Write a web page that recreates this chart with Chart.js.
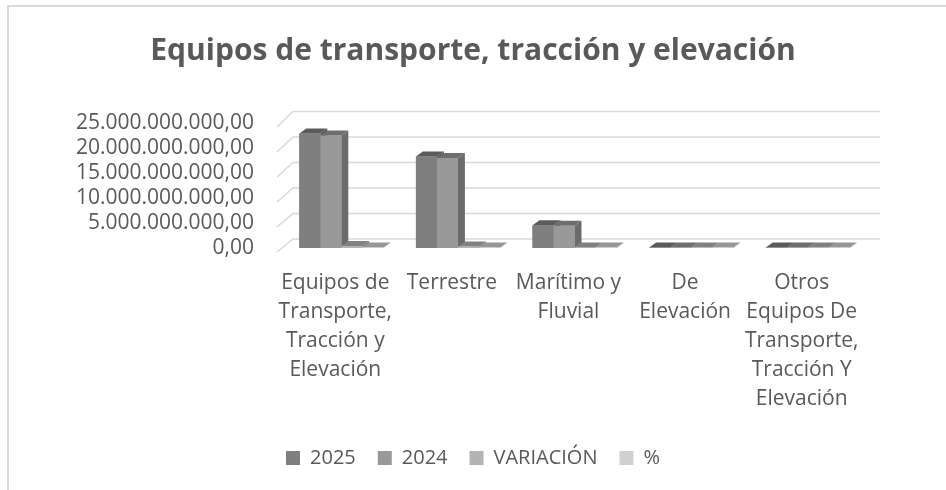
<!DOCTYPE html>
<html>
<head>
<meta charset="utf-8">
<script src="https://cdn.jsdelivr.net/npm/chart.js@4"></script>
<style>
  html, body { margin: 0; padding: 0; background: #fff; overflow: hidden; }
  #wrap { position: relative; width: 946px; height: 490px; }
  #frame { position: absolute; left: 7px; top: 5px; width: 960px; height: 500px;
           border-top: 2px solid #d9d9d9; border-left: 2px solid #d9d9d9; pointer-events: none; }
</style>
</head>
<body>
<div id="wrap">
  <canvas id="myChart" width="946" height="490"></canvas>
  <div id="frame"></div>
</div>
<script>
// categories (multi-line, as wrapped in the picture)
const categories = [
  ['Equipos de', 'Transporte,', 'Tracción y', 'Elevación'],
  ['Terrestre'],
  ['Marítimo y', 'Fluvial'],
  ['De', 'Elevación'],
  ['Otros', 'Equipos De', 'Transporte,', 'Tracción Y', 'Elevación']
]

// series values
const values2025 = [22900000000, 18300000000, 4550000000, 30000000, 20000000]
const values2024 = [22500000000, 18000000000, 4450000000, 30000000, 20000000]
const variacion = [400000000, 300000000, 100000000, 0, 0]
const porcentaje = [1.78, 1.67, 2.25, 0, 0]

const seriesNames = ['2025', '2024', 'VARIACIÓN', '%']
const seriesColors = ['#7f7f7f', '#999999', '#b3b3b3', '#d0d0d0']

const yTicks = [0, 5000000000, 10000000000, 15000000000, 20000000000, 25000000000]

const FONT = "'Open Sans', sans-serif"
const DX = 7, DY = 5

// 25000000000 -> 25.000.000.000,00
const formatNum = v => {
  let s = Math.round(v).toString()
  let out = ''
  while (s.length > 3) {
    out = '.' + s.slice(-3) + out
    s = s.slice(0, -3)
  }
  return s + out + ',00'
}

const shade = (hex, f) => {
  let n = parseInt(hex.slice(1), 16)
  let r = Math.round(((n >> 16) & 255) * f),
      g = Math.round(((n >> 8) & 255) * f),
      b = Math.round((n & 255) * f)
  return `rgb(${r},${g},${b})`
}

const poly = (ctx, pts, color) => {
  ctx.beginPath()
  ctx.moveTo(pts[0][0], pts[0][1])
  for (let i = 1; i < pts.length; i++) ctx.lineTo(pts[i][0], pts[i][1])
  ctx.closePath()
  ctx.fillStyle = color
  ctx.fill()
}

// back wall gridlines + left side wall, drawn from the y scale
const wallsPlugin = {
  id: 'walls',
  beforeDatasetsDraw(chart) {
    const {ctx, chartArea, scales: {y}} = chart
    const base = y.getPixelForValue(0)
    ctx.save()
    ctx.strokeStyle = '#d9d9d9'
    ctx.lineWidth = 1.5
    yTicks.forEach(v => {
      let py = y.getPixelForValue(v)
      let back = py - 9 - (base - py) * 0.02
      ctx.beginPath()
      ctx.moveTo(chartArea.left - 6, py + 4)
      ctx.lineTo(chartArea.left + 10, back)
      ctx.lineTo(chartArea.right + 14, back)
      ctx.stroke()
    })
    ctx.restore()
  }
}

// redraw bars as 3D blocks (side, top, front) in left-to-right order
const blocksPlugin = {
  id: 'blocks',
  afterDatasetsDraw(chart) {
    const {ctx} = chart
    const n = chart.data.labels.length
    ctx.save()
    for (let i = 0; i < n; i++) {
      chart.data.datasets.forEach((ds, d) => {
        const bar = chart.getDatasetMeta(d).data[i]
        const l = bar.x - bar.width / 2, r = bar.x + bar.width / 2
        const top = Math.min(bar.y, bar.base - 0.5), bot = bar.base
        const col = seriesColors[d]
        poly(ctx, [[r, top], [r + DX, top - DY], [r + DX, bot - DY], [r, bot]], shade(col, 0.7))
        poly(ctx, [[l, top], [l + DX, top - DY], [r + DX, top - DY], [r, top]], shade(col, 0.72))
        poly(ctx, [[l, top], [r, top], [r, bot], [l, bot]], col)
      })
    }
    ctx.restore()
  }
}

const buildDataSet = (label, data, color) => ({
  label: label,
  data: data,
  backgroundColor: color,
  borderWidth: 0,
  categoryPercentage: 0.72,
  barPercentage: 1
})

const createChart = () => {
  let ctx = document.getElementById('myChart').getContext('2d')
  return new Chart(ctx, {
    type: 'bar',
    data: {
      labels: categories,
      datasets: [
        buildDataSet(seriesNames[0], values2025, seriesColors[0]),
        buildDataSet(seriesNames[1], values2024, seriesColors[1]),
        buildDataSet(seriesNames[2], variacion, seriesColors[2]),
        buildDataSet(seriesNames[3], porcentaje, seriesColors[3])
      ]
    },
    options: {
      responsive: false,
      animation: false,
      layout: { padding: { left: 0, right: 0, top: 0, bottom: 12 } },
      plugins: {
        title: {
          display: true,
          text: 'Equipos de transporte, tracción y elevación',
          color: '#595959',
          font: { family: FONT, size: 30, weight: 'bold', lineHeight: 1.2 },
          padding: { top: 33, bottom: 54 }
        },
        legend: {
          position: 'bottom',
          labels: {
            color: '#595959',
            font: { family: FONT, size: 20 },
            boxWidth: 14,
            boxHeight: 14,
            padding: 22
          }
        },
        tooltip: { enabled: false }
      },
      scales: {
        x: {
          afterFit: scale => { scale.height = 178 },
          grid: { display: false, drawTicks: false },
          border: { display: false },
          ticks: {
            color: '#595959',
            font: { family: FONT, size: 21, lineHeight: 1.38 },
            padding: 21,
            labelOffset: -6,
            maxRotation: 0,
            autoSkip: false
          }
        },
        y: {
          min: 0,
          max: 25000000000,
          afterFit: scale => { scale.width = 283 },
          afterBuildTicks: scale => { scale.ticks = yTicks.map(v => ({value: v})) },
          grid: { display: false, drawTicks: false },
          border: { display: false },
          ticks: {
            color: '#595959',
            font: { family: FONT, size: 21 },
            padding: 29,
            autoSkip: false,
            callback: v => formatNum(v)
          }
        },
        yRight: {
          position: 'right',
          afterFit: scale => { scale.width = 80 },
          grid: { display: false, drawTicks: false },
          border: { display: false },
          ticks: { display: false }
        }
      }
    },
    plugins: [wallsPlugin, blocksPlugin]
  })
}

createChart()
</script>
</body>
</html>
